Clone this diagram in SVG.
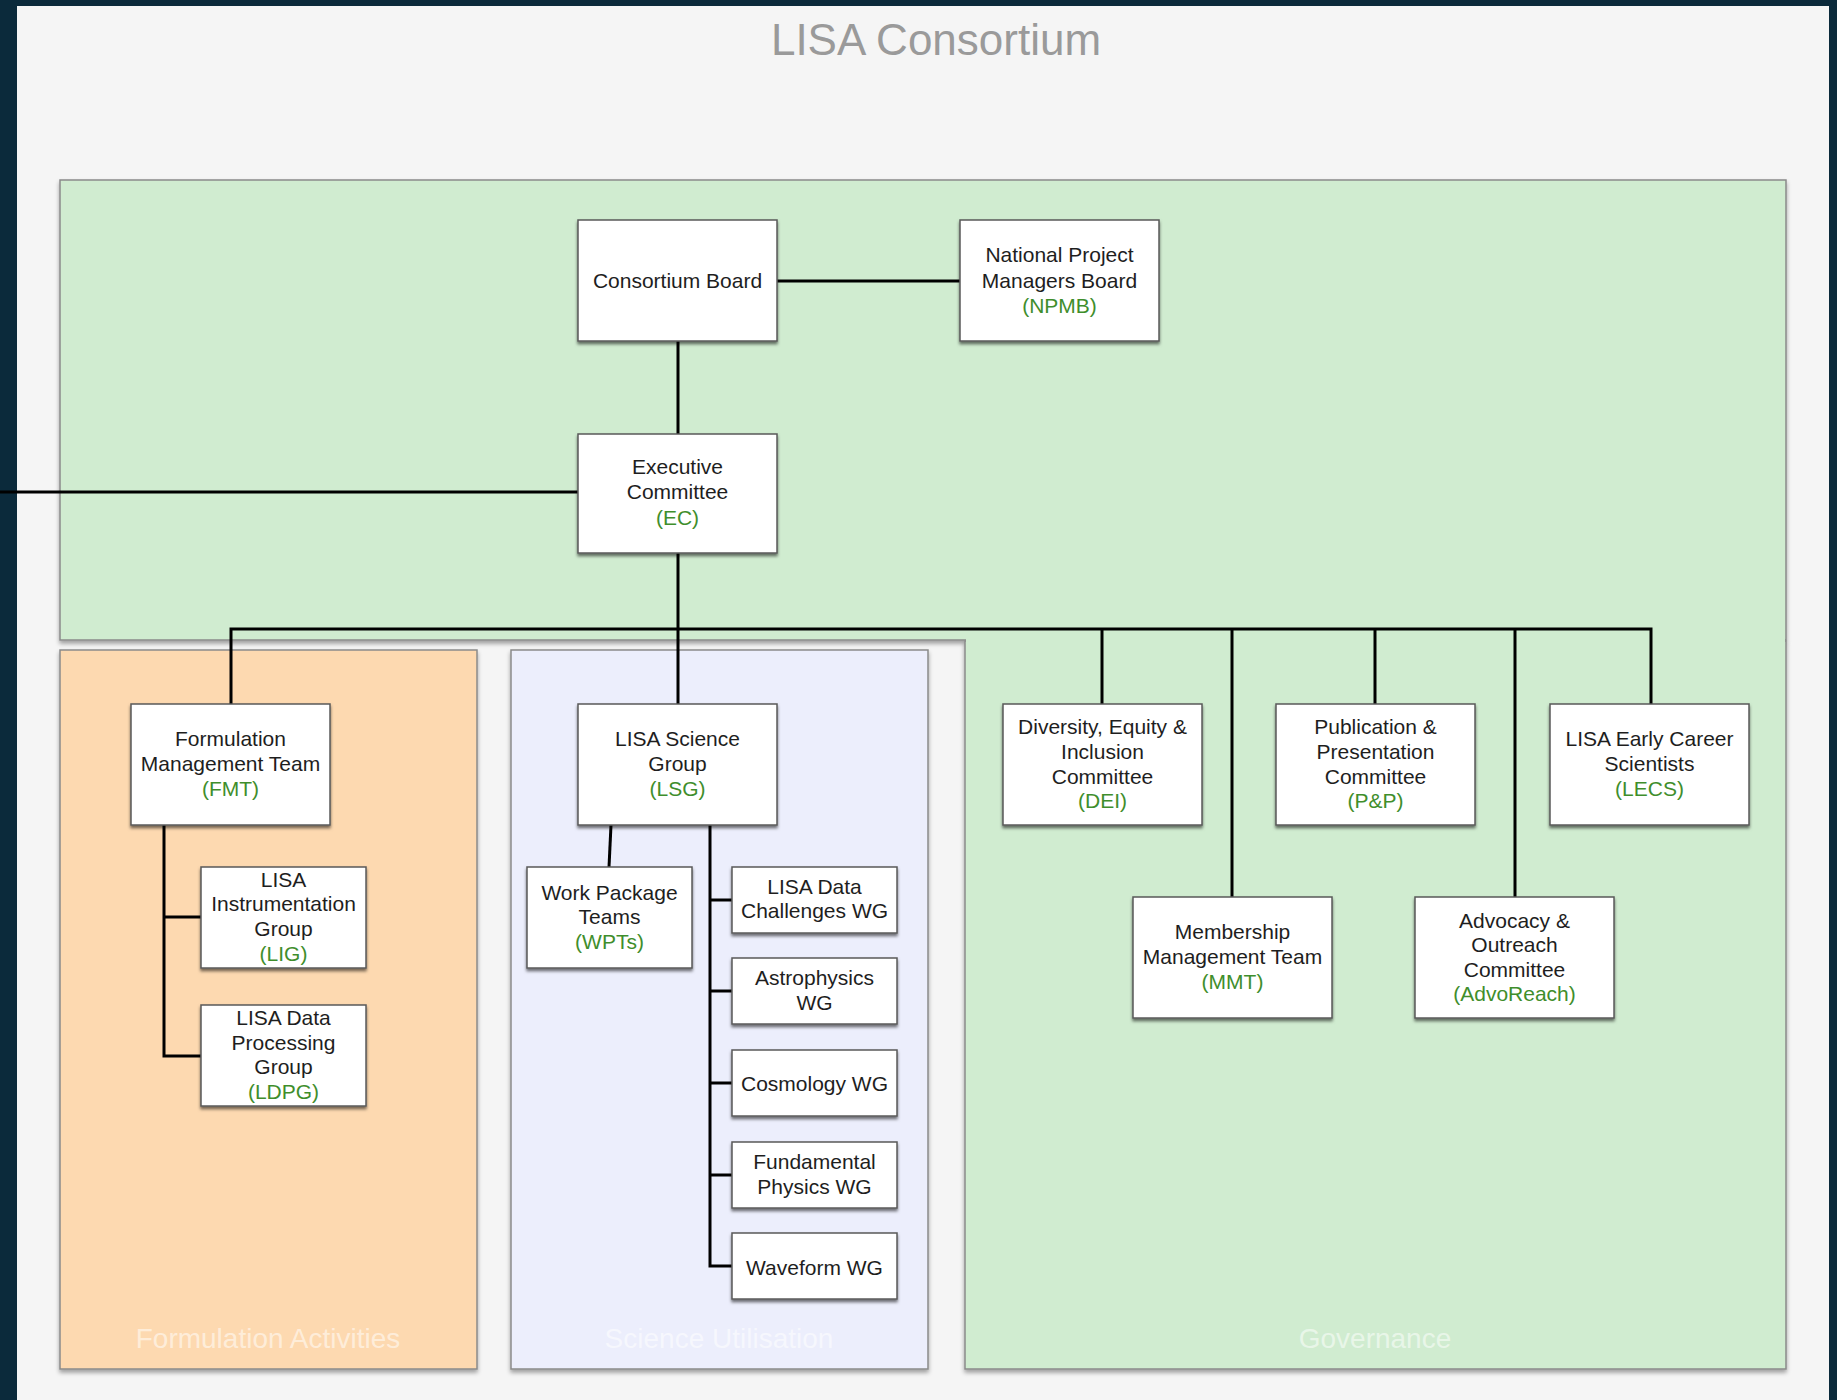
<svg xmlns="http://www.w3.org/2000/svg" width="1837" height="1400" viewBox="0 0 1837 1400">
<defs>
<filter id="sh" x="-10%" y="-10%" width="120%" height="130%">
<feDropShadow dx="0" dy="2.5" stdDeviation="1.5" flood-color="#000" flood-opacity="0.55"/>
</filter>
<filter id="psh" x="-5%" y="-5%" width="110%" height="110%">
<feDropShadow dx="0" dy="3" stdDeviation="2" flood-color="#000" flood-opacity="0.35"/>
</filter>
<style>
.node{fill:#fff;stroke:#5a5a5a;stroke-width:1.5;filter:url(#sh)}
.t{font-family:"Liberation Sans",Arial,Helvetica,sans-serif;font-size:21px;fill:#1e1e1e;text-anchor:middle}
.a{fill:#3f8e2c}
.c{fill:none;stroke:#000;stroke-width:3}
.panel{stroke:#8a8a8a;stroke-width:1.5;filter:url(#psh)}
.pl{font-family:"Liberation Sans",Arial,Helvetica,sans-serif;font-size:28px;fill:#fff;fill-opacity:0.55;text-anchor:middle}
</style>
</defs>
<rect x="0" y="0" width="1837" height="1400" fill="#0b2a3b"/>
<rect x="17" y="6" width="1812" height="1400" fill="#f5f5f5"/>
<text x="936" y="55" font-family="'Liberation Sans',Arial,sans-serif" font-size="44" fill="#9a9a9a" text-anchor="middle">LISA Consortium</text>

<g id="panels">
<rect id="panel-top" class="panel" x="60" y="180" width="1726" height="460" fill="#d0ecd0"/>
<rect id="panel-formulation" class="panel" x="60" y="650" width="417" height="719" fill="#fdd9b0"/>
<rect id="panel-science" class="panel" x="511" y="650" width="417" height="719" fill="#eceefc"/>
<rect id="panel-governance" class="panel" x="965" y="641" width="821" height="728" fill="#d0ecd0"/>
<rect x="966" y="632" width="819" height="12" fill="#d0ecd0"/>
<text class="pl" x="268" y="1348">Formulation Activities</text>
<text class="pl" x="719" y="1348">Science Utilisation</text>
<text class="pl" x="1375" y="1348">Governance</text>
</g>

<g id="connectors">
<line class="c" x1="777" y1="281" x2="960" y2="281"/>
<line class="c" x1="678" y1="341" x2="678" y2="434"/>
<line class="c" x1="0" y1="492" x2="578" y2="492"/>
<line class="c" x1="678" y1="553" x2="678" y2="704"/>
<polyline class="c" points="231,704 231,629 1651,629 1651,704"/>
<line class="c" x1="1102" y1="629" x2="1102" y2="704"/>
<line class="c" x1="1232" y1="629" x2="1232" y2="897"/>
<line class="c" x1="1375" y1="629" x2="1375" y2="704"/>
<line class="c" x1="1515" y1="629" x2="1515" y2="897"/>
<polyline class="c" points="164,825 164,1056 201,1056"/>
<line class="c" x1="164" y1="917" x2="201" y2="917"/>
<polyline class="c" points="611,825 610,846 609,867"/>
<polyline class="c" points="710,825 710,1266 732,1266"/>
<line class="c" x1="710" y1="900" x2="732" y2="900"/>
<line class="c" x1="710" y1="991" x2="732" y2="991"/>
<line class="c" x1="710" y1="1083" x2="732" y2="1083"/>
<line class="c" x1="710" y1="1175" x2="732" y2="1175"/>
</g>

<g id="cb">
<rect class="node" x="578" y="220" width="199" height="121"/>
<text class="t" x="677.5" y="288">Consortium Board</text>
</g>
<g id="npmb">
<rect class="node" x="960" y="220" width="199" height="121"/>
<text class="t" x="1059.5" y="262">National Project</text>
<text class="t" x="1059.5" y="288">Managers Board</text>
<text class="t a" x="1059.5" y="313">(NPMB)</text>
</g>
<g id="ec">
<rect class="node" x="578" y="434" width="199" height="119"/>
<text class="t" x="677.5" y="474">Executive</text>
<text class="t" x="677.5" y="499">Committee</text>
<text class="t a" x="677.5" y="525">(EC)</text>
</g>
<g id="fmt">
<rect class="node" x="131" y="704" width="199" height="121"/>
<text class="t" x="230.5" y="746">Formulation</text>
<text class="t" x="230.5" y="771">Management Team</text>
<text class="t a" x="230.5" y="796">(FMT)</text>
</g>
<g id="lig">
<rect class="node" x="201" y="867" width="165" height="101"/>
<text class="t" x="283.5" y="887">LISA</text>
<text class="t" x="283.5" y="911">Instrumentation</text>
<text class="t" x="283.5" y="936">Group</text>
<text class="t a" x="283.5" y="961">(LIG)</text>
</g>
<g id="ldpg">
<rect class="node" x="201" y="1005" width="165" height="101"/>
<text class="t" x="283.5" y="1025">LISA Data</text>
<text class="t" x="283.5" y="1050">Processing</text>
<text class="t" x="283.5" y="1074">Group</text>
<text class="t a" x="283.5" y="1099">(LDPG)</text>
</g>
<g id="lsg">
<rect class="node" x="578" y="704" width="199" height="121"/>
<text class="t" x="677.5" y="746">LISA Science</text>
<text class="t" x="677.5" y="771">Group</text>
<text class="t a" x="677.5" y="796">(LSG)</text>
</g>
<g id="wpt">
<rect class="node" x="527" y="867" width="165" height="101"/>
<text class="t" x="609.5" y="900">Work Package</text>
<text class="t" x="609.5" y="924">Teams</text>
<text class="t a" x="609.5" y="949">(WPTs)</text>
</g>
<g id="ldc">
<rect class="node" x="732" y="867" width="165" height="66"/>
<text class="t" x="814.5" y="894">LISA Data</text>
<text class="t" x="814.5" y="918">Challenges WG</text>
</g>
<g id="astro">
<rect class="node" x="732" y="958" width="165" height="66"/>
<text class="t" x="814.5" y="985">Astrophysics</text>
<text class="t" x="814.5" y="1010">WG</text>
</g>
<g id="cosmo">
<rect class="node" x="732" y="1050" width="165" height="66"/>
<text class="t" x="814.5" y="1091">Cosmology WG</text>
</g>
<g id="fund">
<rect class="node" x="732" y="1142" width="165" height="66"/>
<text class="t" x="814.5" y="1169">Fundamental</text>
<text class="t" x="814.5" y="1194">Physics WG</text>
</g>
<g id="wave">
<rect class="node" x="732" y="1233" width="165" height="66"/>
<text class="t" x="814.5" y="1275">Waveform WG</text>
</g>
<g id="dei">
<rect class="node" x="1003" y="704" width="199" height="121"/>
<text class="t" x="1102.5" y="734">Diversity, Equity &amp;</text>
<text class="t" x="1102.5" y="759">Inclusion</text>
<text class="t" x="1102.5" y="784">Committee</text>
<text class="t a" x="1102.5" y="808">(DEI)</text>
</g>
<g id="pp">
<rect class="node" x="1276" y="704" width="199" height="121"/>
<text class="t" x="1375.5" y="734">Publication &amp;</text>
<text class="t" x="1375.5" y="759">Presentation</text>
<text class="t" x="1375.5" y="784">Committee</text>
<text class="t a" x="1375.5" y="808">(P&amp;P)</text>
</g>
<g id="lecs">
<rect class="node" x="1550" y="704" width="199" height="121"/>
<text class="t" x="1649.5" y="746">LISA Early Career</text>
<text class="t" x="1649.5" y="771">Scientists</text>
<text class="t a" x="1649.5" y="796">(LECS)</text>
</g>
<g id="mmt">
<rect class="node" x="1133" y="897" width="199" height="121"/>
<text class="t" x="1232.5" y="939">Membership</text>
<text class="t" x="1232.5" y="964">Management Team</text>
<text class="t a" x="1232.5" y="989">(MMT)</text>
</g>
<g id="advo">
<rect class="node" x="1415" y="897" width="199" height="121"/>
<text class="t" x="1514.5" y="928">Advocacy &amp;</text>
<text class="t" x="1514.5" y="952">Outreach</text>
<text class="t" x="1514.5" y="977">Committee</text>
<text class="t a" x="1514.5" y="1001">(AdvoReach)</text>
</g>
</svg>
